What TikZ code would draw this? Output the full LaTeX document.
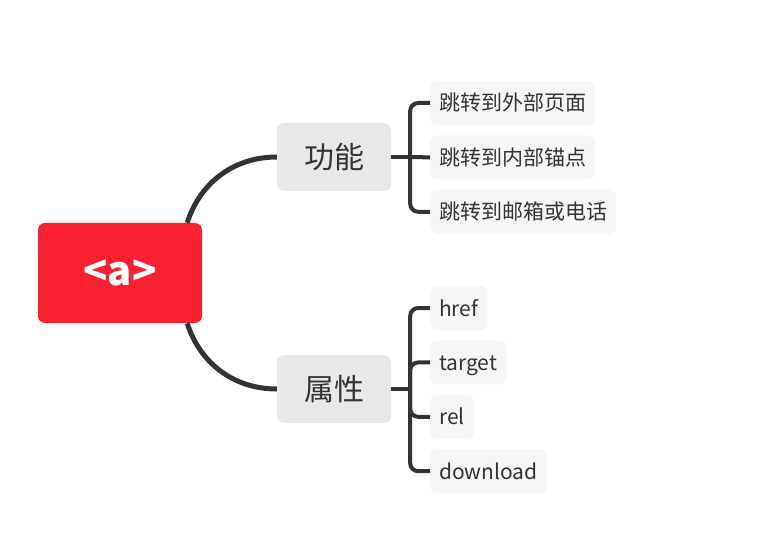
\documentclass[tikz,border=0pt]{standalone}
\usepackage{fontspec}
\setmainfont{Noto Sans CJK SC}
\usepackage{tikz}
\usetikzlibrary{positioning}

\definecolor{rootred}{HTML}{F8212F}
\definecolor{topicgrey}{HTML}{E8E8E8}
\definecolor{leafgrey}{HTML}{F6F6F6}
\definecolor{ink}{HTML}{333333}

\begin{document}
\begin{tikzpicture}
    [x=1pt,y=1pt,every node/.style={rounded corners=7pt,text=ink,inner sep=0pt}]

    \tikzstyle{root}   = [fill=rootred,text=white,minimum width=164pt,minimum height=100pt,font=\bfseries\fontsize{40}{44}\selectfont]
    \tikzstyle{topic}  = [fill=topicgrey,minimum width=114pt,minimum height=68pt,font=\fontsize{30}{34}\selectfont]
    \tikzstyle{leaf}   = [fill=leafgrey,minimum height=44pt,inner xsep=9pt,text height=18pt,text depth=2pt,font=\fontsize{21}{25}\selectfont]
    \tikzstyle{branch} = [line width=5pt,draw=ink]
    \tikzstyle{twig}   = [line width=4pt,draw=ink,rounded corners=8pt]

    \useasboundingbox (0,0) rectangle (757,547);

    \node [root] (a) at (120,274) {<a>} ;
    \node [topic] (func) at (334,390) {功能} ;
    \node [topic] (attr) at (334,158) {属性} ;

    \node [leaf,anchor=west] (f1) at (430,444) {跳转到外部页面} ;
    \node [leaf,below=10pt of f1.south west,anchor=north west] (f2) {跳转到内部锚点} ;
    \node [leaf,below=10pt of f2.south west,anchor=north west] (f3) {跳转到邮箱或电话} ;

    \node [leaf,anchor=west] (h1) at (430,239) {href} ;
    \node [leaf,below=10pt of h1.south west,anchor=north west] (h2) {target} ;
    \node [leaf,below=10pt of h2.south west,anchor=north west] (h3) {rel} ;
    \node [leaf,below=10pt of h3.south west,anchor=north west] (h4) {download} ;

    \coordinate [right=19pt of func.east] (j1) ;
    \coordinate [right=19pt of attr.east] (j2) ;

    \draw [branch] ([xshift=-15pt]a.north east) .. controls +(12,38) and +(-45,0) .. (func.west) ;
    \draw [branch] ([xshift=-15pt]a.south east) .. controls +(12,-38) and +(-45,0) .. (attr.west) ;

    \draw [twig] (func.east) -- (j1) ;
    \draw [twig] (j1) |- (f1.west) ;
    \draw [twig] (j1) -- (f2.west) ;
    \draw [twig] (j1) |- (f3.west) ;

    \draw [twig] (attr.east) -- (j2) ;
    \draw [twig] (j2) |- (h1.west) ;
    \draw [twig] (j2) |- (h2.west) ;
    \draw [twig] (j2) |- (h3.west) ;
    \draw [twig] (j2) |- (h4.west) ;
  \end{tikzpicture}
\end{document}
